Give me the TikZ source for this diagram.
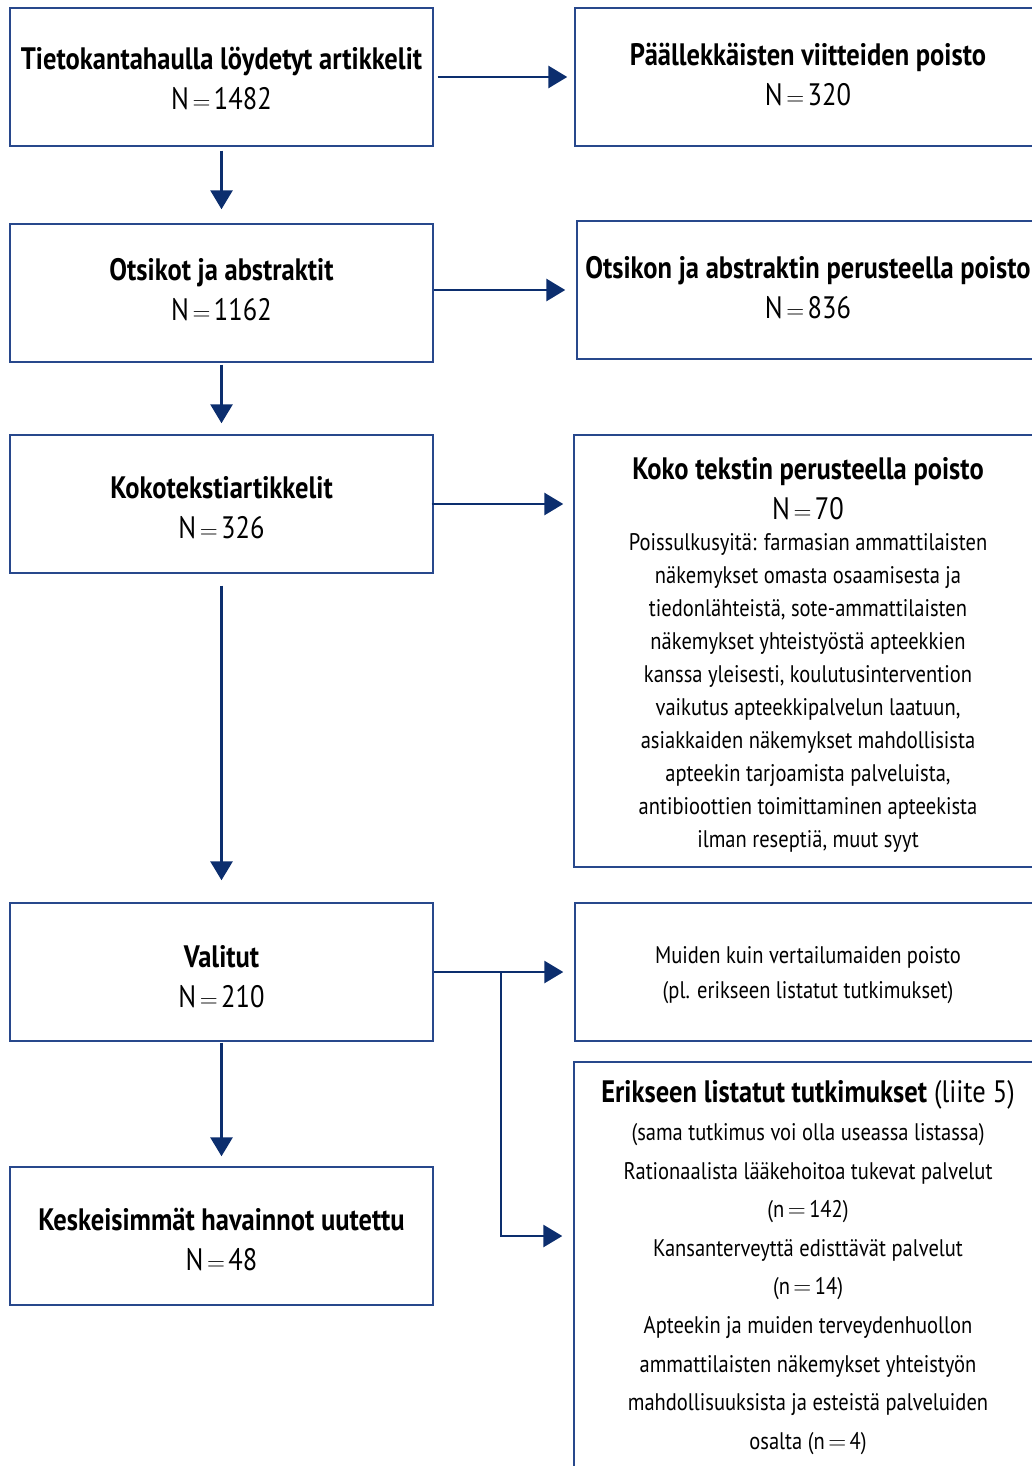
\documentclass[tikz,border=0pt]{standalone}
\usepackage{fontspec}
\setmainfont{PT Sans}[FakeStretch=0.855]
\usetikzlibrary{arrows.meta}
\definecolor{navy}{RGB}{12,46,110}
\definecolor{boxline}{RGB}{40,72,140}
\newcommand\eqs{\kern3.5pt$=$\kern3.5pt}
\tikzset{
  box/.style={draw=boxline, line width=1.4pt, rectangle, inner sep=0pt},
  lbox/.style={box, minimum width=423pt, minimum height=138pt},
  rbox/.style={box, minimum width=466pt, minimum height=138pt},
  big/.style={font=\fontsize{31}{40}\selectfont, align=center, inner sep=0pt},
  body/.style={font=\fontsize{24}{33}\selectfont, align=center, inner sep=0pt},
  arr/.style={draw=navy, line width=2.8pt, -{Triangle[length=19pt,width=22pt]}},
}
\begin{document}
\begin{tikzpicture}[x=1pt,y=-1pt]
\useasboundingbox (0,0) rectangle (1032,1466);
\clip (0,0) rectangle (1032,1466);
% left column
\node[lbox] (b1) at (221.5,77) {};
\node[big] (t1) at (221.5,79) {\textbf{Tietokantahaulla löydetyt artikkelit}\\N\eqs1482};
\node[lbox] (b2) at (221.5,293) {};
\node[big] (t2) at (221.5,290) {\textbf{Otsikot ja abstraktit}\\N\eqs1162};
\node[lbox] (b3) at (221.5,504) {};
\node[big] (t3) at (221.5,508) {\textbf{Kokotekstiartikkelit}\\N\eqs326};
\node[lbox] (b4) at (221.5,972) {};
\node[big] (t4) at (221.5,977) {\textbf{Valitut}\\N\eqs210};
\node[lbox] (b5) at (221.5,1236) {};
\node[big] (t5) at (221.5,1239) {\textbf{Keskeisimmät havainnot uutettu}\\N\eqs48};
% right column
\node[rbox] (r1) at (808,77) {};
\node[big] (s1) at (808,75) {\textbf{Päällekkäisten viitteiden poisto}\\N\eqs320};
\node[rbox, minimum width=464pt] (r2) at (809,290) {};
\node[big] (s2) at (808,288) {\textbf{Otsikon ja abstraktin perusteella poisto}\\N\eqs836};
\node[rbox, minimum width=467pt, minimum height=432pt] (r3) at (807.5,651) {};
\node[big] (s3) at (808,489) {\textbf{Koko tekstin perusteella poisto}\\N\eqs70};
\node[body] (s3b) at (808,692.5) {Poissulkusyitä: farmasian ammattilaisten\\näkemykset omasta osaamisesta ja\\tiedonlähteistä, sote-ammattilaisten\\näkemykset yhteistyöstä apteekkien\\kanssa yleisesti, koulutusintervention\\vaikutus apteekkipalvelun laatuun,\\asiakkaiden näkemykset mahdollisista\\apteekin tarjoamista palveluista,\\antibioottien toimittaminen apteekista\\ilman reseptiä, muut syyt};
\node[rbox] (r4) at (808,972) {};
\node[body, font=\fontsize{24}{35}\selectfont] (s4) at (808,975.5) {Muiden kuin vertailumaiden poisto\\(pl. erikseen listatut tutkimukset)};
\node[box, minimum width=467pt, minimum height=430pt] (r5) at (807.5,1277) {};
\node[big] (s5) at (808,1095) {\textbf{Erikseen listatut tutkimukset} (liite 5)};
\node[body, font=\fontsize{24}{38.6}\selectfont] (s5b) at (808,1289) {(sama tutkimus voi olla useassa listassa)\\Rationaalista lääkehoitoa tukevat palvelut\\(n\eqs142)\\Kansanterveyttä edisttävät palvelut\\(n\eqs14)\\Apteekin ja muiden terveydenhuollon\\ammattilaisten näkemykset yhteistyön\\mahdollisuuksista ja esteistä palveluiden\\osalta (n\eqs4)};
% connectors
\draw[arr, shorten <=4pt, shorten >=7pt] (b1.east) -- (r1.west);
\draw[arr, shorten <=4pt, shorten >=14pt] (b1.south) -- (b2.north);
\draw[arr, shorten >=11pt] (b2.east |- r2.west) -- (r2.west);
\draw[arr, shorten <=2pt, shorten >=11pt] (b2.south) -- (b3.north);
\draw[arr, shorten <=-2pt, shorten >=10pt] (b3.east) -- (r3.west |- b3.east);
\draw[arr, shorten <=12pt, shorten >=22pt] (b3.south) -- (b4.north);
\draw[arr, shorten >=11pt] (b4.east) -- (r4.west);
\coordinate (j) at (501,972);
\coordinate (k) at (501,1236);
\draw[arr, shorten >=11pt] (j) -- (k) -- (r5.west |- k);
\draw[arr, shorten <=1pt, shorten >=10pt] (b4.south) -- (b5.north);
\end{tikzpicture}
\end{document}
